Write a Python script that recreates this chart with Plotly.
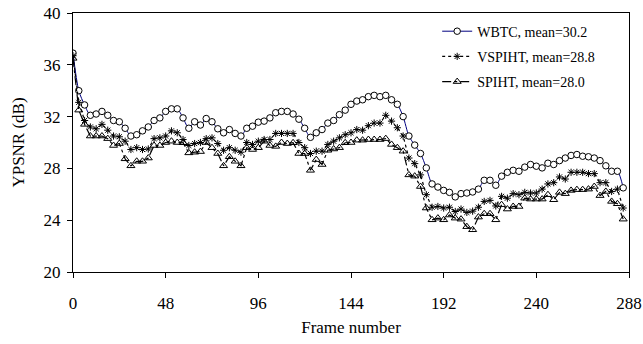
import plotly.graph_objects as go

frames = list(range(0, 288, 3))

wbtc = [36.9, 34.0, 32.9, 32.1, 32.2, 32.4, 32.1, 31.7, 31.6, 31.1,
        30.5, 30.6, 30.9, 31.2, 31.7, 31.9, 32.4, 32.6, 32.6, 31.9,
        31.1, 31.6, 31.35, 31.85, 31.6, 31.06, 30.75, 31.0, 30.7, 30.5,
        31.1, 31.26, 31.57, 31.65, 31.9, 32.3, 32.4, 32.4, 32.2, 31.8,
        31.1, 30.4, 30.75, 31.0, 31.5, 31.7, 32.15, 32.5, 32.95, 33.2,
        33.3, 33.54, 33.64, 33.54, 33.64, 33.3, 32.95, 32.0, 30.5, 29.8,
        29.15, 28.04, 26.8, 26.56, 26.3, 26.15, 25.8, 26.05, 26.1, 26.18,
        26.4, 27.08, 27.08, 26.7, 27.4, 27.7, 27.85, 27.78, 28.1, 28.3,
        28.17, 28.04, 28.4, 28.3, 28.6, 28.8, 29.0, 29.07, 28.94, 28.9,
        28.8, 28.6, 28.2, 27.78, 27.78, 26.5]

vspiht = [36.7, 33.1, 31.7, 31.2, 31.06, 31.4, 30.95, 30.5, 30.44, 30.1,
          29.46, 29.6, 29.46, 29.5, 30.3, 30.36, 30.5, 30.9, 30.75, 30.23,
          29.77, 29.92, 30.0, 30.3, 30.36, 29.92, 29.4, 29.6, 29.4, 29.25,
          30.0, 29.85, 30.1, 30.23, 30.23, 30.7, 30.7, 30.7, 30.7, 30.0,
          29.6, 29.15, 29.33, 29.33, 29.85, 30.1, 30.36, 30.6, 30.75, 31.0,
          30.95, 31.3, 31.5, 31.5, 32.1, 31.65, 31.14, 30.5, 28.8, 28.37,
          27.5, 25.97, 25.0, 25.06, 24.94, 25.0, 24.67, 24.86, 24.6, 24.7,
          25.0, 25.45, 25.53, 25.1, 25.84, 25.7, 26.05, 25.97, 26.15, 26.1,
          26.1, 26.4, 26.8, 26.9, 27.34, 27.18, 27.7, 27.7, 27.7, 27.6,
          27.6, 26.9, 26.9, 26.22, 26.4, 24.94]

spiht = [36.5, 32.5, 31.4, 30.5, 30.5, 30.5, 30.3, 29.77, 29.92, 28.74,
         28.2, 28.55, 28.55, 28.8, 29.77, 29.77, 30.0, 30.1, 30.0, 29.98,
         29.2, 29.25, 29.3, 30.0, 29.6, 29.15, 28.2, 28.9, 28.55, 28.2,
         29.6, 29.46, 29.6, 30.1, 29.77, 29.7, 30.0, 29.92, 29.98, 29.15,
         29.15, 27.85, 28.68, 28.3, 29.4, 29.5, 29.6, 29.98, 30.0, 30.18,
         30.18, 30.23, 30.23, 30.23, 30.3, 29.85, 29.6, 29.33, 27.5, 27.4,
         26.6, 24.94, 24.03, 24.16, 24.03, 24.4, 24.16, 24.08, 23.5, 23.26,
         24.24, 24.5, 24.5, 24.03, 25.2, 24.86, 25.06, 25.06, 25.7, 25.63,
         25.63, 25.63, 25.97, 25.58, 26.15, 26.05, 26.3, 26.36, 26.36, 26.4,
         26.6, 25.9, 26.22, 25.45, 25.27, 24.08]

names = ["WBTC, mean=30.2", "VSPIHT, mean=28.8", "SPIHT, mean=28.0"]
x_ticks = [0, 48, 96, 144, 192, 240, 288]
y_ticks = [20, 24, 28, 32, 36, 40]

FONT = "Liberation Serif"

fig = go.Figure()
fig.add_trace(go.Scatter(
    x=frames, y=wbtc, name=names[0], mode="lines+markers", legendgroup="a",
    line=dict(color="#000080", width=1, shape="spline", smoothing=0.8),
    marker=dict(symbol="circle", size=6.5, color="white",
                line=dict(color="black", width=1))))
fig.add_trace(go.Scatter(
    x=frames, y=vspiht, name=names[1], mode="lines+markers", legendgroup="b",
    line=dict(color="black", width=1.2, dash="dot"),
    marker=dict(symbol="asterisk-open", size=6, color="black",
                line=dict(color="black", width=1))))
fig.add_trace(go.Scatter(
    x=frames, y=spiht, name=names[2], mode="lines+markers", legendgroup="c",
    line=dict(color="black", width=1.2, dash="dashdot"),
    marker=dict(symbol="triangle-up-open", size=7, color="black",
                line=dict(color="black", width=1))))

fig.update_layout(
    width=643, height=344,
    margin=dict(l=73, r=14, t=13, b=72, autoexpand=False),
    paper_bgcolor="white", plot_bgcolor="white",
    font=dict(family=FONT, size=17, color="black"),
    showlegend=True,
    legend=dict(x=0.655, y=0.99, xanchor="left", yanchor="top",
                bgcolor="rgba(255,255,255,0)", borderwidth=0,
                font=dict(family=FONT, size=14),
                traceorder="grouped", tracegroupgap=4),
    xaxis=dict(range=[0, 288], tickvals=x_ticks, ticks="outside", ticklen=5,
               tickcolor="black", showline=True, linecolor="black", linewidth=1,
               mirror=True, showgrid=False, zeroline=False, ticklabelstandoff=11,
               automargin=False, tickfont=dict(family=FONT, size=17),
               title=dict(text="Frame number", standoff=8,
                          font=dict(family=FONT, size=17))),
    yaxis=dict(range=[20, 40], tickvals=y_ticks, ticks="outside", ticklen=5,
               tickcolor="black", showline=True, linecolor="black", linewidth=1,
               mirror=True, showgrid=False, zeroline=False, automargin=False,
               ticklabelstandoff=3, tickfont=dict(family=FONT, size=17),
               title=dict(text="YPSNR (dB)", standoff=14,
                          font=dict(family=FONT, size=17))),
)

fig.write_html("out.html", config={"displayModeBar": False},
               post_script="document.body.style.margin='0';")
